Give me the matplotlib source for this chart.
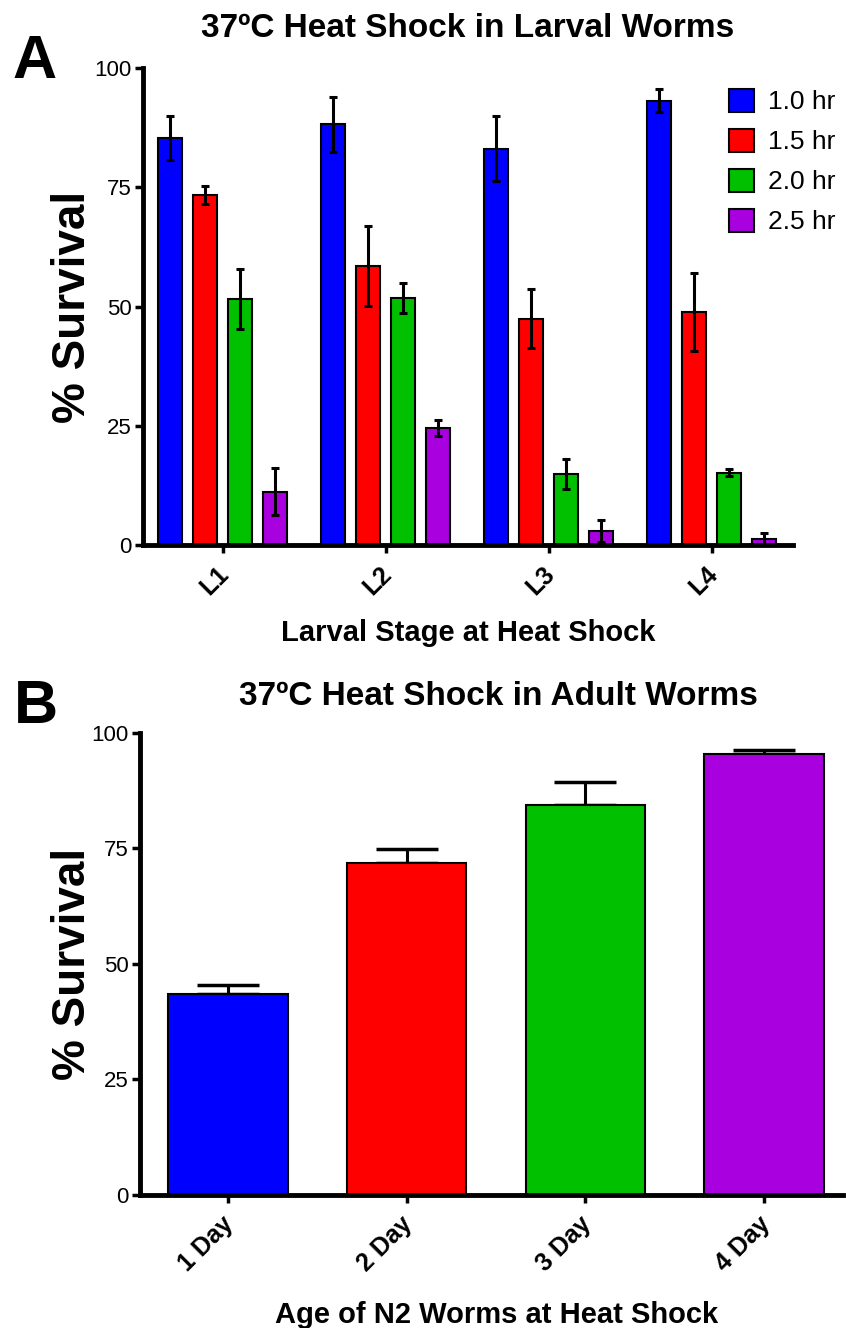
import numpy as np
import matplotlib
matplotlib.use('Agg')
import matplotlib.pyplot as plt
import matplotlib.transforms as mtransforms

plt.rcParams['font.family'] = ['Liberation Sans', 'DejaVu Sans']

# panel A data - larval stages
stages = ['L1', 'L2', 'L3', 'L4']
durations = ['1.0 hr', '1.5 hr', '2.0 hr', '2.5 hr']
surv_10 = [85.3, 88.2, 83.1, 93.1]
surv_15 = [73.4, 58.5, 47.4, 48.8]
surv_20 = [51.6, 51.8, 14.9, 15.2]
surv_25 = [11.2, 24.5, 2.9, 1.3]
err_10 = [4.6, 5.8, 6.8, 2.4]
err_15 = [1.9, 8.4, 6.2, 8.2]
err_20 = [6.3, 3.2, 3.1, 0.8]
err_25 = [4.9, 1.7, 2.3, 1.3]

# panel B data - adult age
ages = ['1 Day', '2 Day', '3 Day', '4 Day']
adult_surv = [43.5, 71.8, 84.3, 95.4]
adult_err = [2.0, 3.1, 5.1, 0.8]

colors = ['#0000FF', '#FF0000', '#00C000', '#A800DE']


def style_axis(ax):
    ax.spines['top'].set_visible(False)
    ax.spines['right'].set_visible(False)
    ax.spines['left'].set_linewidth(3.5)
    ax.spines['bottom'].set_linewidth(3.5)
    ax.tick_params(direction='out', length=6, width=2.5, labelsize=16, pad=2)
    ax.tick_params(axis='x', pad=6)
    ax.set_ylim(0, 100)
    ax.set_yticks([0, 25, 50, 75, 100])


def shift_xticklabels(ax, dx):
    # nudge the rotated labels left so they sit under the ticks
    off = mtransforms.ScaledTranslation(dx / 72, 0, ax.figure.dpi_scale_trans)
    for lab in ax.get_xticklabels():
        lab.set_transform(lab.get_transform() + off)


fig = plt.figure(figsize=(8.46, 13.28), dpi=100)

# ---- panel A ----
axA = fig.add_axes([0.1690, 0.5896, 0.7683, 0.3592])
x = np.arange(len(stages))
pitch = 0.215
width = 0.147
series = [surv_10, surv_15, surv_20, surv_25]
errs = [err_10, err_15, err_20, err_25]
handles = []
for i in range(4):
    pos = x + (i - 1.5) * pitch
    b = axA.bar(pos, series[i], width, color=colors[i], edgecolor='black',
                linewidth=1.5, label=durations[i], zorder=2)
    axA.errorbar(pos, series[i], yerr=errs[i], fmt='none', ecolor='black',
                 elinewidth=2.2, capsize=3, capthick=2.2, zorder=3)
    handles.append(b)
style_axis(axA)
axA.set_xlim(-0.49, 3.5)
axA.set_xticks(x)
axA.set_xticklabels(stages, rotation=45, ha='right', rotation_mode='anchor',
                    fontsize=18, fontweight='bold')
shift_xticklabels(axA, -4.5)
axA.set_title('37ºC Heat Shock in Larval Worms', fontsize=24, fontweight='bold', pad=22)
axA.set_xlabel('Larval Stage at Heat Shock', fontsize=21, fontweight='bold', labelpad=14)
axA.set_ylabel('% Survival', fontsize=33, fontweight='bold', va='center')
axA.yaxis.set_label_coords(-0.108, 0.5)
axA.legend(handles=handles, loc='upper left', bbox_to_anchor=(0.862, 0.933),
           bbox_transform=fig.transFigure, frameon=False, fontsize=19,
           handlelength=0.95, handleheight=0.95, handletextpad=0.5,
           labelspacing=0.55, borderpad=0, borderaxespad=0)

# ---- panel B ----
axB = fig.add_axes([0.1655, 0.1002, 0.8310, 0.3479])
xb = np.arange(len(ages))
axB.bar(xb, adult_surv, 0.67, color=colors, edgecolor='black', linewidth=1.5, zorder=2)
axB.errorbar(xb, adult_surv, yerr=[np.zeros(4), adult_err], fmt='none', ecolor='black',
             elinewidth=2.2, capsize=22, capthick=2.5, zorder=1)
style_axis(axB)
axB.set_xlim(-0.49, 3.44)
axB.set_xticks(xb)
axB.set_xticklabels(ages, rotation=45, ha='right', rotation_mode='anchor',
                    fontsize=18, fontweight='bold')
shift_xticklabels(axB, -4.5)
axB.set_title('37ºC Heat Shock in Adult Worms', fontsize=24, fontweight='bold', pad=20, x=0.51)
axB.set_xlabel('Age of N2 Worms at Heat Shock', fontsize=21, fontweight='bold', labelpad=18)
axB.xaxis.label.set_x(0.507)
axB.set_ylabel('% Survival', fontsize=33, fontweight='bold', va='center')
axB.yaxis.set_label_coords(-0.095, 0.5)

# panel letters
fig.text(12 / 846, 1 - 78 / 1328, 'A', fontsize=44, fontweight='bold', va='baseline')
fig.text(14 / 846, 1 - 723 / 1328, 'B', fontsize=44, fontweight='bold', va='baseline')

fig.savefig('out.png', dpi=100)
